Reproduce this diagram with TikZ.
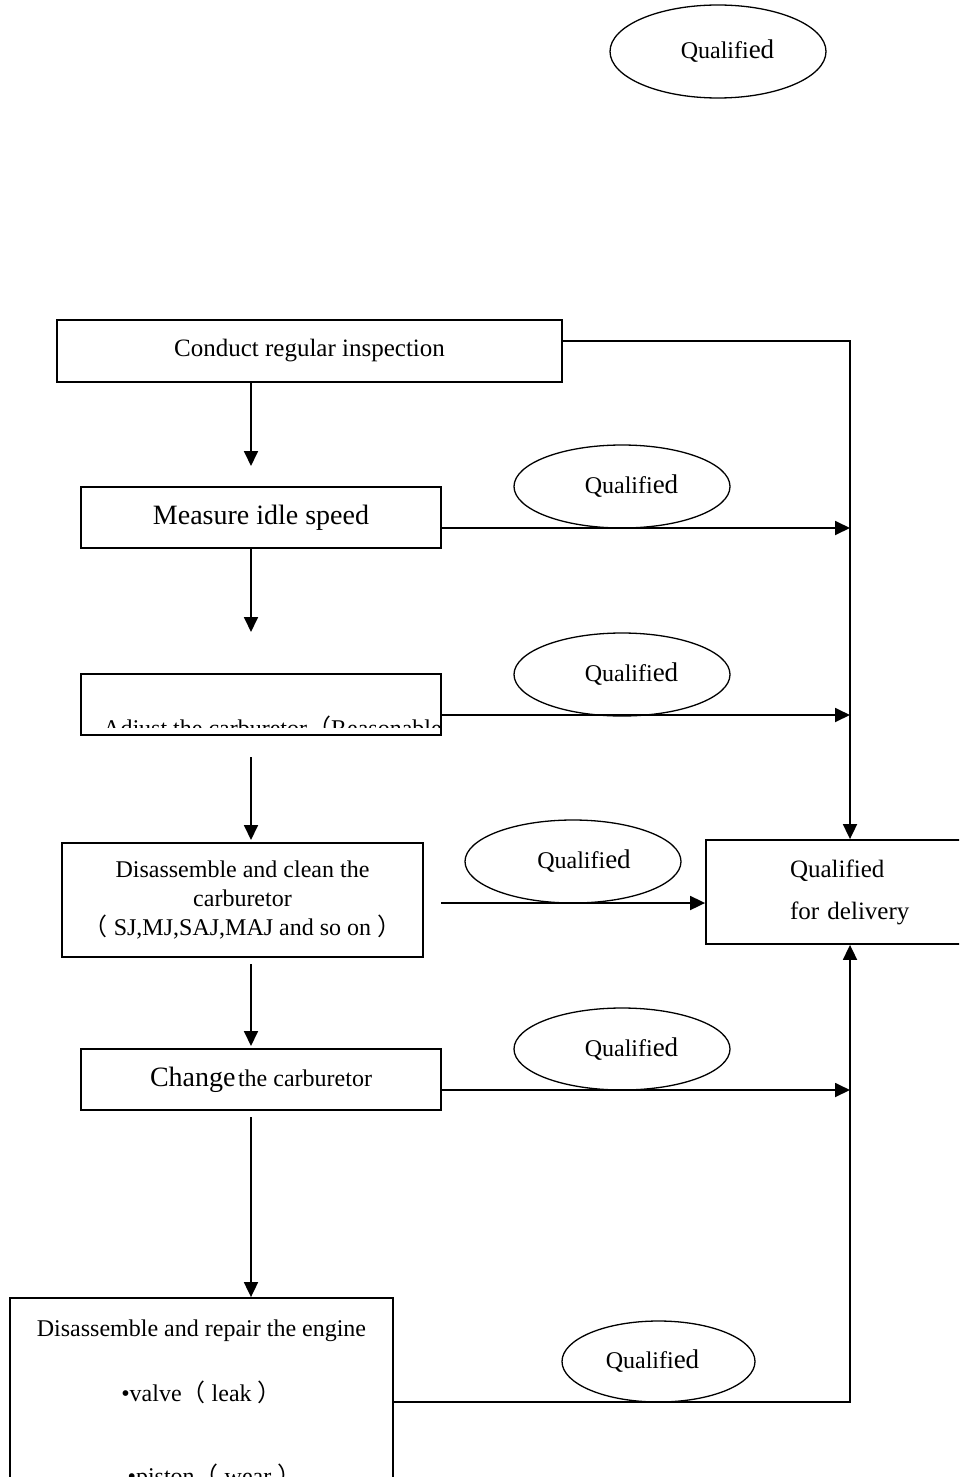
\documentclass[tikz,border=0pt]{standalone}
\usepackage{fontspec}
\setmainfont{Liberation Serif}
\newfontfamily\cjkfont{Noto Sans CJK SC}
\newcommand\fwlp{{\cjkfont （}}
\newcommand\fwrp{{\cjkfont ）}}
\usetikzlibrary{arrows.meta,shapes.geometric}
\begin{document}
\begin{tikzpicture}[x=1pt,y=-1pt,
  box/.style={draw, line width=1.8pt, rectangle, inner sep=0pt, align=center},
  oval/.style={draw, ellipse, line width=1.3pt, inner sep=0pt, font=\fontsize{24}{29}\selectfont},
  arr/.style={line width=1.8pt, -{Triangle[length=15pt,width=14pt]}},
  ln/.style={line width=1.8pt}]
\useasboundingbox (0,0) rectangle (959,1477);
\clip (0,0) rectangle (959,1477);

% ellipses
\node[oval, minimum width=216pt, minimum height=93pt] (e0) at (718,51.5) {\hspace*{19pt}Qualifi{\fontsize{27}{30}\selectfont ed}};
\node[oval, minimum width=216pt, minimum height=83pt] (e1) at (622,486.5) {\hspace*{19pt}Qualifi{\fontsize{27}{30}\selectfont ed}};
\node[oval, minimum width=216pt, minimum height=83pt] (e2) at (622,674.5) {\hspace*{19pt}Qualifi{\fontsize{27}{30}\selectfont ed}};
\node[oval, minimum width=216pt, minimum height=83pt] (e3) at (573,861.5) {\hspace*{22pt}Qualifi{\fontsize{27}{30}\selectfont ed}};
\node[oval, minimum width=216pt, minimum height=82pt] (e4) at (622,1049) {\hspace*{19pt}Qualifi{\fontsize{27}{30}\selectfont ed}};
\node[oval, minimum width=193pt, minimum height=81pt] (e5) at (658.5,1361.5) {Qualifi{\fontsize{27}{30}\selectfont ed}\hspace*{12pt}};

% boxes
\node[box, minimum width=505pt, minimum height=62pt, font=\fontsize{25}{30}\selectfont] (b1) at (309.5,351) {Conduct regular inspection};
\node[box, minimum width=360pt, minimum height=61pt, font=\fontsize{28}{34}\selectfont] (b2) at (261,517.5) {\raisebox{-3pt}{Measure idle speed}};
\node[box, minimum width=360pt, minimum height=61pt] (b3) at (261,704.5) {};
\begin{scope}
  \clip (81,674) rectangle (441,727);
  \node[anchor=base west, inner sep=0pt, font=\fontsize{24}{29}\selectfont] (b3t) at (103,736) {Adjust the carburetor\fwlp Reasonable idle speed\fwrp};
\end{scope}
\node[box, minimum width=361pt, minimum height=114pt, font=\fontsize{24}{29}\selectfont] (b4) at (242.5,900) {Disassemble and clean the\\carburetor\\\fwlp\ SJ,MJ,SAJ,MAJ and so on\ \fwrp};
\node[box, minimum width=360pt, minimum height=61pt] (b5) at (261,1079.5) {{\fontsize{28}{34}\selectfont Change} {\fontsize{24}{29}\selectfont the carburetor}};
\node[box, minimum width=383pt, minimum height=214pt, font=\fontsize{24}{65}\selectfont] (b6) at (201.5,1405) {Disassemble and repair the engine\\\textbullet valve\fwlp\ leak\ \fwrp\\[18pt]\hspace*{26pt}\textbullet piston\fwlp\ wear\ \fwrp};
\node[box, minimum width=288pt, minimum height=104pt, text width=120pt, inner xsep=84pt, align=left, font=\fontsize{25}{42}\selectfont] (rb) at (850,892) {Qualified\\for delivery};

% coordinates
\coordinate (v1) at (251,466);
\coordinate (v2s) at (251,548);
\coordinate (v2) at (251,632);
\coordinate (v3s) at (251,757);
\coordinate (v3) at (251,840);
\coordinate (v4s) at (251,964);
\coordinate (v4) at (251,1046);
\coordinate (v5s) at (251,1117);
\coordinate (s4) at (441,903);

% vertical arrows
\draw[arr] (b1.south -| v1) -- (v1);
\draw[arr] (b2.south -| v2) -- (v2);
\draw[arr] (v3s) -- (v3);
\draw[arr] (v4s) -- (v4);
\draw[arr] (v5s) -- (b6.north -| v5s);

% to the right
\draw[arr] ([yshift=10pt]b1.east) -| (rb.north);
\path ([yshift=-10.5pt]b2.east) coordinate (h2);
\draw[arr] (h2) -- (h2 -| rb.north);
\path ([yshift=-10.5pt]b3.east) coordinate (h3);
\draw[arr] (h3) -- (h3 -| rb.north);
\draw[arr] (s4) -- (s4 -| rb.west);
\path ([yshift=-10.5pt]b5.east) coordinate (h5);
\draw[arr] (h5) -- (h5 -| rb.north);
\draw[arr] ([yshift=3pt]b6.east) -| (rb.south);
\end{tikzpicture}
\end{document}
